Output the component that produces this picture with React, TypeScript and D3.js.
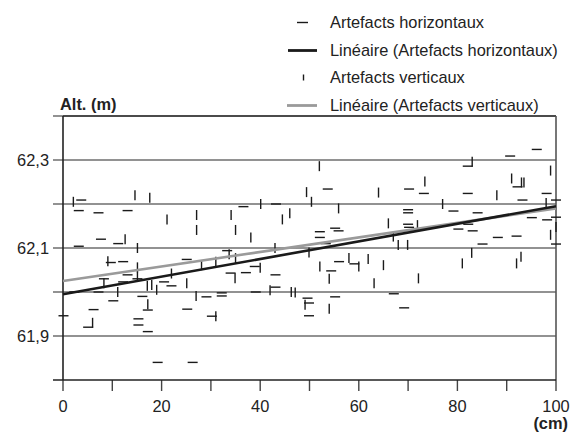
import React from "react";
import { useRef, useEffect } from "react";
import { select, scaleLinear, range } from "d3";

// horizontal artefacts: [cm, alt]
const horizX = [3.7, 3.2, 7.2, 13.1, 3.2, 7.7, 11.2, 9.7, 12.2, 13.1, 8.3, 12.2, 15.1, 2.3, 7.2, 10.2, 16.1, 17.2, 6.2, 0.1, 5.1, 15.3, 15.3, 17.2, 19.2, 20.5, 22, 36.6, 43.2, 25.1, 34, 37.1, 43.1, 33.3, 29.1, 32.2, 32.2, 39.1, 43.1, 25.2, 30.2, 26.3, 49.6, 49.9, 49.9, 38.9, 53.7, 70.2, 73.2, 70, 70, 70, 70.2, 52.1, 52.1, 55.2, 55.9, 56, 54.4, 59.1, 55.2, 67.1, 69.2, 96.1, 90.7, 82.1, 82.1, 98.1, 92.2, 79.2, 84.1, 93.2, 100, 95.1, 98.2, 100, 100, 80.2, 82.2, 83.1, 85.1, 88.2, 92, 53.3];
const horizY = [62.209, 62.185, 62.18, 62.185, 62.104, 62.12, 62.11, 62.067, 62.069, 62.039, 62.03, 62.023, 62.03, 62.0, 62.0, 61.98, 61.99, 61.959, 61.96, 61.946, 61.92, 61.939, 61.925, 61.91, 61.84, 62.023, 62.014, 62.194, 62.2, 62.074, 62.043, 62.044, 62.039, 62.094, 61.989, 61.998, 61.991, 62.0, 62.011, 61.961, 61.945, 61.84, 61.986, 61.975, 61.946, 62.058, 62.234, 62.234, 62.224, 62.187, 62.18, 62.154, 62.147, 62.137, 62.124, 62.145, 62.139, 62.069, 62.048, 62.064, 61.989, 61.996, 61.964, 62.324, 62.309, 62.286, 62.224, 62.224, 62.239, 62.184, 62.18, 62.209, 62.209, 62.169, 62.164, 62.17, 62.109, 62.143, 62.154, 62.139, 62.109, 62.124, 62.127, 62.11];

// vertical artefacts: [cm, alt]
const vertX = [2.1, 14.6, 17.6, 21.1, 12.6, 15.1, 9.1, 15.1, 15.1, 11.1, 17.1, 18, 19, 22, 8.3, 17.2, 6.0, 40.1, 27.1, 27.1, 34.1, 35, 38.1, 44.5, 46, 49.4, 43, 33.7, 35, 31, 28.1, 25.1, 27, 34.9, 42, 46.3, 47.1, 49.1, 40, 31, 52, 50.4, 55.9, 64, 66, 67, 68, 69.9, 52.1, 61.9, 65, 63.1, 72.1, 54, 73.4, 71.9, 54, 58, 60, 49.9, 83, 91, 93, 93.5, 98.9, 88, 77, 98, 100, 98.9, 82.9, 81, 92, 92.9];
const vertY = [62.205, 62.22, 62.214, 62.165, 62.12, 62.1, 62.07, 62.056, 62.035, 62.0, 62.014, 62.016, 62.005, 62.042, 62.02, 61.972, 61.93, 62.2, 62.175, 62.141, 62.175, 62.141, 62.124, 62.165, 62.179, 62.227, 62.1, 62.086, 62.077, 62.069, 62.061, 62.02, 61.991, 62.031, 62.004, 62.0, 61.999, 61.971, 62.055, 61.945, 62.286, 62.205, 62.19, 62.226, 62.156, 62.126, 62.107, 62.107, 62.058, 62.075, 62.061, 62.02, 62.031, 61.962, 62.251, 62.152, 62.03, 62.077, 62.058, 62.09, 62.296, 62.258, 62.249, 62.249, 62.276, 62.22, 62.2, 62.202, 62.148, 62.13, 62.089, 62.065, 62.065, 62.08];

// linear fits, values at 0 and 100 cm
const fitHoriz = [61.995, 62.195];
const fitVert = [62.025, 62.19];

const yTickLabels = ["62,3", "62,1", "61,9"];
const yLabelValues = [62.3, 62.1, 61.9];
const xTickLabels = ["0", "20", "40", "60", "80", "100"];

const legendItems = [
  "Artefacts horizontaux",
  "Linéaire (Artefacts horizontaux)",
  "Artefacts verticaux",
  "Linéaire (Artefacts verticaux)",
];

const FONT = "'Liberation Sans', Arial, sans-serif";
const FS = 16.4;

function App() {
  const svgRef = useRef(null);

  useEffect(() => {
    const width = 575;
    const height = 434;
    const margin = { top: 116, right: 19, bottom: 54, left: 63 };

    const svg = select(svgRef.current);
    svg.selectAll("*").remove();
    svg.attr("width", width).attr("height", height);

    const xScale = scaleLinear().domain([0, 100]).range([margin.left, width - margin.right]);
    const yScale = scaleLinear().domain([61.8, 62.4]).range([height - margin.bottom, margin.top]);

    const x0 = xScale(0);
    const x1 = xScale(100);
    const yBot = yScale(61.8);
    const yTop = yScale(62.4);

    // gridlines + left ticks
    const gridVals = range(0, 6).map((i) => 61.9 + i * 0.1);
    svg
      .selectAll(".grid")
      .data(gridVals)
      .enter()
      .append("line")
      .attr("x1", x0 - 10)
      .attr("x2", x1)
      .attr("y1", (d) => yScale(d))
      .attr("y2", (d) => yScale(d))
      .attr("stroke", "#6e6e6e")
      .attr("stroke-width", 1.4);

    // frame
    svg.append("line").attr("x1", x0).attr("x2", x1).attr("y1", yTop).attr("y2", yTop)
      .attr("stroke", "#333").attr("stroke-width", 1.4);
    svg.append("line").attr("x1", x1).attr("x2", x1).attr("y1", yTop).attr("y2", yBot)
      .attr("stroke", "#555").attr("stroke-width", 1.6);

    // x ticks
    svg
      .selectAll(".xtick")
      .data(range(0, 101, 10))
      .enter()
      .append("line")
      .attr("x1", (d) => xScale(d))
      .attr("x2", (d) => xScale(d))
      .attr("y1", yBot)
      .attr("y2", yBot + 11)
      .attr("stroke", "#444")
      .attr("stroke-width", 1.4);

    // axes
    svg.append("line").attr("x1", x0).attr("x2", x0).attr("y1", yTop).attr("y2", yBot)
      .attr("stroke", "#222").attr("stroke-width", 1.6);
    svg.append("line").attr("x1", x0 - 10).attr("x2", x1).attr("y1", yBot).attr("y2", yBot)
      .attr("stroke", "#222").attr("stroke-width", 1.6);

    // tick labels
    svg
      .selectAll(".ylab")
      .data(yTickLabels)
      .enter()
      .append("text")
      .attr("x", 49)
      .attr("y", (d, i) => yScale(yLabelValues[i]) + 6)
      .attr("text-anchor", "end")
      .attr("font-family", FONT)
      .attr("font-size", FS)
      .attr("fill", "#222")
      .text((d) => d);

    svg
      .selectAll(".xlab")
      .data(xTickLabels)
      .enter()
      .append("text")
      .attr("x", (d) => xScale(+d))
      .attr("y", yBot + 32)
      .attr("text-anchor", "middle")
      .attr("font-family", FONT)
      .attr("font-size", FS)
      .attr("fill", "#222")
      .text((d) => d);

    svg.append("text").attr("x", 60).attr("y", 110).attr("font-family", FONT)
      .attr("font-size", FS).attr("font-weight", "bold").attr("fill", "#222").text("Alt. (m)");
    svg.append("text").attr("x", 568).attr("y", 429).attr("text-anchor", "end").attr("font-family", FONT)
      .attr("font-size", FS).attr("font-weight", "bold").attr("fill", "#222").text("(cm)");

    // markers
    const half = 5;
    svg
      .selectAll(".hz")
      .data(horizX)
      .enter()
      .append("line")
      .attr("x1", (d) => xScale(d) - half)
      .attr("x2", (d) => xScale(d) + half)
      .attr("y1", (d, i) => yScale(horizY[i]))
      .attr("y2", (d, i) => yScale(horizY[i]))
      .attr("stroke", "#1a1a1a")
      .attr("stroke-width", 1.4);

    svg
      .selectAll(".vt")
      .data(vertX)
      .enter()
      .append("line")
      .attr("x1", (d) => xScale(d))
      .attr("x2", (d) => xScale(d))
      .attr("y1", (d, i) => yScale(vertY[i]) - half)
      .attr("y2", (d, i) => yScale(vertY[i]) + half)
      .attr("stroke", "#1a1a1a")
      .attr("stroke-width", 1.4);

    // regression lines
    svg.append("line").attr("x1", x0).attr("x2", x1)
      .attr("y1", yScale(fitVert[0])).attr("y2", yScale(fitVert[1]))
      .attr("stroke", "#9a9a9a").attr("stroke-width", 2.6);
    svg.append("line").attr("x1", x0).attr("x2", x1)
      .attr("y1", yScale(fitHoriz[0])).attr("y2", yScale(fitHoriz[1]))
      .attr("stroke", "#1a1a1a").attr("stroke-width", 2.6);

    // legend
    const legendRows = [22.5, 50.5, 77.5, 105.5];
    const lg = svg.append("g");
    lg.append("line").attr("x1", 297).attr("x2", 308).attr("y1", legendRows[0]).attr("y2", legendRows[0])
      .attr("stroke", "#1a1a1a").attr("stroke-width", 1.4);
    lg.append("line").attr("x1", 288).attr("x2", 317).attr("y1", legendRows[1]).attr("y2", legendRows[1])
      .attr("stroke", "#1a1a1a").attr("stroke-width", 2.8);
    lg.append("line").attr("x1", 303.5).attr("x2", 303.5).attr("y1", legendRows[2] - 3).attr("y2", legendRows[2] + 3)
      .attr("stroke", "#1a1a1a").attr("stroke-width", 1.4);
    lg.append("line").attr("x1", 287).attr("x2", 317).attr("y1", legendRows[3]).attr("y2", legendRows[3])
      .attr("stroke", "#9a9a9a").attr("stroke-width", 2.8);
    lg.selectAll("text")
      .data(legendItems)
      .enter()
      .append("text")
      .attr("x", 330)
      .attr("y", (d, i) => legendRows[i] + 5.5)
      .attr("font-family", FONT)
      .attr("font-size", FS)
      .attr("fill", "#222")
      .text((d) => d);
  }, []);

  return (
    <svg ref={svgRef} style={{ position: "absolute", left: 0, top: 0 }} />
  );
}

export default App;
